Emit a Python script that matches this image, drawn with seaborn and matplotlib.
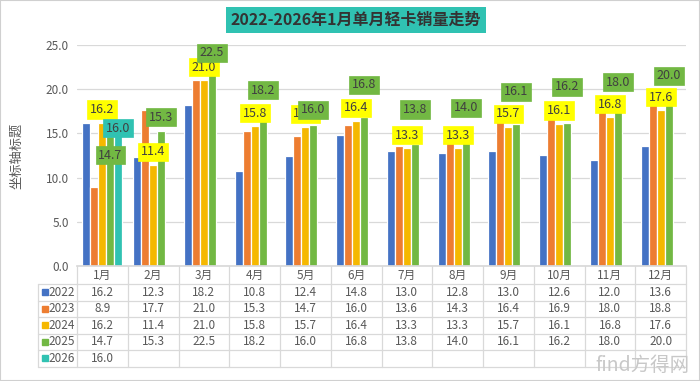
import numpy as np
import pandas as pd
import matplotlib
matplotlib.use('Agg')
import matplotlib.pyplot as plt
import seaborn as sns
from matplotlib.patches import Rectangle
from matplotlib.transforms import blended_transform_factory

months = ['1月', '2月', '3月', '4月', '5月', '6月', '7月', '8月', '9月', '10月', '11月', '12月']
years = ['2022', '2023', '2024', '2025', '2026']
sales_2022 = [16.2, 12.3, 18.2, 10.8, 12.4, 14.8, 13.0, 12.8, 13.0, 12.6, 12.0, 13.6]
sales_2023 = [8.9, 17.7, 21.0, 15.3, 14.7, 16.0, 13.6, 14.3, 16.4, 16.9, 18.0, 18.8]
sales_2024 = [16.2, 11.4, 21.0, 15.8, 15.7, 16.4, 13.3, 13.3, 15.7, 16.1, 16.8, 17.6]
sales_2025 = [14.7, 15.3, 22.5, 18.2, 16.0, 16.8, 13.8, 14.0, 16.1, 16.2, 18.0, 20.0]
sales_2026 = [16.0]
series = [sales_2022, sales_2023, sales_2024, sales_2025, sales_2026]

colors = ['#4472C4', '#ED7D31', '#F5B800', '#72B843', '#30C2B2']

# label placement (vertical shift from bar top, in y units) - moved by hand in the original
shift_2024 = [1.5] * 12
shift_2025 = [-2.15, 1.55, 1.6, 1.7, 1.65, 3.7, 3.9, 3.9, 3.6, 4.05, 2.8, 1.5]
shift_2026 = [-0.4]

rows = []
for y, vals in zip(years, series):
    for m, v in zip(months, vals):
        rows.append({'month': m, 'year': y, 'value': v})
df = pd.DataFrame(rows)

sns.set_theme(style='white')
plt.rcParams['font.family'] = ['Noto Sans CJK SC', 'DejaVu Sans']

W, H = 700, 381
fig = plt.figure(figsize=(W / 100, H / 100), dpi=100)
ax = fig.add_axes([77 / W, 1 - 266 / H, 609 / W, 221 / H])

sns.barplot(data=df, x='month', y='value', hue='year', order=months, hue_order=years,
            palette=colors, saturation=1, width=0.79, errorbar=None,
            edgecolor='white', linewidth=0.9, legend=False, ax=ax)

ax.set_xlim(-0.5, 11.5)
ax.set_ylim(0, 25)
ax.set_yticks(np.arange(0, 25.1, 5))
ax.yaxis.set_major_formatter(matplotlib.ticker.FormatStrFormatter('%.1f'))
ax.yaxis.grid(True, color='#D9D9D9', lw=0.9)
ax.set_axisbelow(True)
for s in ['left', 'right', 'top']:
    ax.spines[s].set_visible(False)
ax.spines['bottom'].set_color('#D9D9D9')
ax.set_xticklabels([])
ax.set_xlabel('')
ax.tick_params(axis='x', length=0)
ax.tick_params(axis='y', length=0, labelsize=8.5, labelcolor='#595959', pad=6)
ax.set_ylabel('坐标轴标题', fontsize=9.5, color='#595959')
ax.yaxis.set_label_coords((23 - 77) / 609, 0.5)

# value labels
label_style = {'2024': ('#FFFF00', shift_2024),
               '2025': ('#72B843', shift_2025),
               '2026': ('#30C2B2', shift_2026)}
for year, cont in zip(years, ax.containers):
    if year not in label_style:
        continue
    fc, shifts = label_style[year]
    for bar, dy in zip(cont, shifts):
        h = bar.get_height()
        ax.text(bar.get_x() + bar.get_width() / 2, h + dy, f'{h:.1f}',
                ha='center', va='center', fontsize=9, color='#404040', zorder=5,
                bbox=dict(boxstyle='square,pad=0.22', fc=fc, ec=fc, lw=0.5))

# data table under the plot
trans = blended_transform_factory(ax.transData, ax.transAxes)
header_h = 18 / 221
row_h = 16.5 / 221
left_x = (38 - 77) / 609
grid_c = '#D9D9D9'
txt_c = '#595959'
tfs = 8.5

for i, m in enumerate(months):
    ax.text(i, -header_h / 2, m, transform=trans, ha='center', va='center',
            fontsize=tfs, color=txt_c, clip_on=False)

for r, (y, vals, c) in enumerate(zip(years, series, colors)):
    yc = -header_h - (r + 0.5) * row_h
    ax.plot([(45 - 77) / 609], [yc], marker='s', ms=4, color=c,
            transform=ax.transAxes, clip_on=False)
    ax.text((48.5 - 77) / 609, yc, y, transform=ax.transAxes, ha='left', va='center',
            fontsize=tfs, color=txt_c, clip_on=False)
    for i, v in enumerate(vals):
        ax.text(i, yc, f'{v:.1f}', transform=trans, ha='center', va='center',
                fontsize=tfs, color=txt_c, clip_on=False)

bottom = -header_h - len(years) * row_h
for k in range(len(years) + 1):
    yy = -header_h - k * row_h
    ax.plot([left_x, 1], [yy, yy], color=grid_c, lw=0.9,
            transform=ax.transAxes, clip_on=False)
for j in range(len(months) + 1):
    ax.plot([j - 0.5, j - 0.5], [0, bottom], color=grid_c, lw=0.9,
            transform=trans, clip_on=False)
ax.plot([left_x, left_x], [-header_h, bottom], color=grid_c, lw=0.9,
        transform=ax.transAxes, clip_on=False)

# title
fig.text(0.508, 1 - 20 / H, '2022-2026年1月单月轻卡销量走势', ha='center', va='center',
         fontsize=11.5, fontweight='bold', color='#333333',
         bbox=dict(boxstyle='square,pad=0.3', fc='#30C2B2', ec='none'))

# watermark
fig.text(0.985, 0.012, 'find方得网', ha='right', va='bottom', fontsize=14,
         color='#C8C8C8', style='italic')

fig.patches.append(Rectangle((0, 0), 1, 1, transform=fig.transFigure, fill=False,
                             ec='#D0D0D0', lw=1.5))

fig.savefig('out.png', dpi=100)
